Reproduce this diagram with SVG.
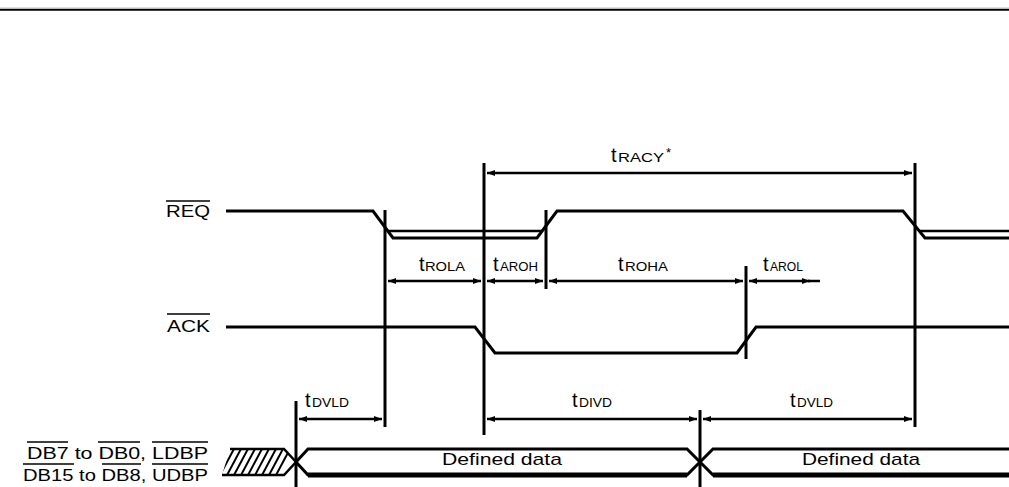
<svg xmlns="http://www.w3.org/2000/svg" width="1009" height="487" viewBox="0 0 1009 487">
<style>
.sig{fill:none;stroke:#000;stroke-width:3;stroke-linejoin:miter}
.sig2{fill:none;stroke:#000;stroke-width:2.5}
.vl{stroke:#000;stroke-width:3}
.ar{stroke:#000;stroke-width:2.5;marker-start:url(#ah);marker-end:url(#ah)}
.lbl{font-family:"Liberation Sans",Arial,sans-serif;font-size:17px;fill:#000}
.tt{font-family:"Liberation Sans",Arial,sans-serif;font-size:20px;fill:#000}
.ts{font-family:"Liberation Sans",Arial,sans-serif;font-size:13px;fill:#000}
.ov{stroke:#000;stroke-width:1.5}
</style>
<defs>
<marker id="ah" viewBox="0 0 8 6" refX="8" refY="3" markerWidth="8" markerHeight="6" markerUnits="userSpaceOnUse" orient="auto-start-reverse">
<path d="M0,0 L8,3 L0,6 z" fill="#000"/>
</marker>
<clipPath id="hc"><polygon points="230,449 284,449 296,462 284,475 222,475"/></clipPath>
</defs>
<rect width="1009" height="487" fill="#fff"/>
<line x1="0" y1="8.2" x2="1009" y2="8.2" stroke="#999" stroke-width="1"/>
<line x1="0" y1="9.9" x2="1009" y2="9.9" stroke="#000" stroke-width="1.8"/>

<g id="req">
<text class="lbl" x="166" y="217" textLength="44" lengthAdjust="spacingAndGlyphs">REQ</text>
<line class="ov" x1="166" y1="201" x2="210" y2="201"/>
<path class="sig" d="M226,211 H373 L393,238 H537 L557,211 H903 L925,238 H1009"/>
<path class="sig2" d="M388,231 H542 M919,231 H1009"/>
</g>

<g id="ack">
<text class="lbl" x="167" y="332" textLength="43" lengthAdjust="spacingAndGlyphs">ACK</text>
<line class="ov" x1="167" y1="314" x2="210" y2="314"/>
<path class="sig" d="M226,327 H475 L495,353 H737 L756,327 H1009"/>
</g>

<g id="data">
<text class="lbl" x="27" y="459" textLength="181" lengthAdjust="spacingAndGlyphs">DB7 to DB0, LDBP</text>
<line class="ov" x1="27" y1="442" x2="68" y2="442"/>
<line class="ov" x1="98" y1="442" x2="140" y2="442"/>
<line class="ov" x1="152" y1="442" x2="208" y2="442"/>
<text class="lbl" x="23" y="481" textLength="185" lengthAdjust="spacingAndGlyphs">DB15 to DB8, UDBP</text>
<line class="ov" x1="23" y1="464" x2="74" y2="464"/>
<line class="ov" x1="102" y1="464" x2="141" y2="464"/>
<line class="ov" x1="152" y1="464" x2="208" y2="464"/>
<g clip-path="url(#hc)" stroke="#000" stroke-width="2">
<line x1="212" y1="477" x2="228" y2="447"/>
<line x1="219" y1="477" x2="235" y2="447"/>
<line x1="226" y1="477" x2="242" y2="447"/>
<line x1="233" y1="477" x2="249" y2="447"/>
<line x1="240" y1="477" x2="256" y2="447"/>
<line x1="247" y1="477" x2="263" y2="447"/>
<line x1="254" y1="477" x2="270" y2="447"/>
<line x1="261" y1="477" x2="277" y2="447"/>
<line x1="268" y1="477" x2="284" y2="447"/>
<line x1="275" y1="477" x2="291" y2="447"/>
</g>
<path d="M230,449 H284 L296,462 L284,475 H222" fill="none" stroke="#000" stroke-width="2.5"/>
<path d="M296,462 L308,449 H687 L713,475 H1009" fill="none" stroke="#000" stroke-width="3"/>
<path d="M296,462 L308,475 H687 L713,449 H1009" fill="none" stroke="#000" stroke-width="3"/>
<path d="M308,475 H687 M713,475 H1009" fill="none" stroke="#000" stroke-width="5"/>
<text class="lbl" x="442" y="465" textLength="120" lengthAdjust="spacingAndGlyphs">Defined data</text>
<text class="lbl" x="802" y="465" textLength="118" lengthAdjust="spacingAndGlyphs">Defined data</text>
</g>

<g id="refs">
<line class="vl" x1="385" y1="210" x2="385" y2="427"/>
<line class="vl" x1="484" y1="163" x2="484" y2="435"/>
<line class="vl" x1="546" y1="210" x2="546" y2="289"/>
<line class="vl" x1="746" y1="266" x2="746" y2="359"/>
<line class="vl" x1="915" y1="163" x2="915" y2="427"/>
<line class="vl" x1="296" y1="401" x2="296" y2="487"/>
<line class="vl" x1="700" y1="410" x2="700" y2="487"/>
</g>

<g id="connectors">
<line class="ar" x1="487" y1="173" x2="912" y2="173"/>
<line class="ar" x1="388" y1="281" x2="481" y2="281"/>
<line class="ar" x1="487" y1="281" x2="543" y2="281"/>
<line class="ar" x1="549" y1="281" x2="743" y2="281"/>
<line class="ar" x1="749" y1="281" x2="810" y2="281"/>
<line x1="808" y1="281" x2="820" y2="281" stroke="#000" stroke-width="2.5"/>
<line class="ar" x1="299" y1="419" x2="382" y2="419"/>
<line class="ar" x1="487" y1="419" x2="697" y2="419"/>
<line class="ar" x1="703" y1="419" x2="912" y2="419"/>
</g>

<g id="labels">
<text x="611" y="162"><tspan class="tt">t</tspan><tspan class="ts" x="618" textLength="46" lengthAdjust="spacingAndGlyphs">RACY</tspan><tspan class="ts" x="666" dy="-5">*</tspan></text>
<text x="419" y="271"><tspan class="tt">t</tspan><tspan class="ts" x="425" textLength="40" lengthAdjust="spacingAndGlyphs">ROLA</tspan></text>
<text x="493" y="271"><tspan class="tt">t</tspan><tspan class="ts" x="500" textLength="38" lengthAdjust="spacingAndGlyphs">AROH</tspan></text>
<text x="618" y="271"><tspan class="tt">t</tspan><tspan class="ts" x="625" textLength="43" lengthAdjust="spacingAndGlyphs">ROHA</tspan></text>
<text x="763" y="271"><tspan class="tt">t</tspan><tspan class="ts" x="770" textLength="33" lengthAdjust="spacingAndGlyphs">AROL</tspan></text>
<text x="305" y="407"><tspan class="tt">t</tspan><tspan class="ts" x="312" textLength="37" lengthAdjust="spacingAndGlyphs">DVLD</tspan></text>
<text x="572" y="407"><tspan class="tt">t</tspan><tspan class="ts" x="579" textLength="33" lengthAdjust="spacingAndGlyphs">DIVD</tspan></text>
<text x="790" y="407"><tspan class="tt">t</tspan><tspan class="ts" x="797" textLength="36" lengthAdjust="spacingAndGlyphs">DVLD</tspan></text>
</g>
</svg>
